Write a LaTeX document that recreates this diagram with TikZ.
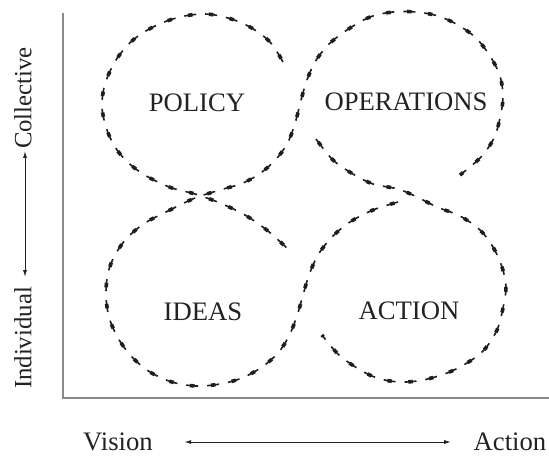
\documentclass[tikz,border=0pt]{standalone}
\usepackage{fontspec}
\setmainfont{Liberation Serif}
\usetikzlibrary{arrows.meta}
\definecolor{ink}{HTML}{1E1E1E}
\definecolor{axisgray}{HTML}{8A8A8A}
\definecolor{textgray}{HTML}{222222}
\tikzset{
  % tapered dashes: a thin dash with a thicker core in its middle
  loopstrand/.style={
    draw=ink, line width=1.2pt, dash pattern=on 9pt off 6.75pt,
    preaction={draw=ink, line width=2.7pt,
      dash pattern=on 0pt off 2.8pt on 3.4pt off 9.55pt}},
  axisline/.style={draw=axisgray, line width=1.6pt},
  dirarrow/.style={draw=textgray, line width=0.6pt,
    {Latex[length=5pt,width=3pt]}-{Latex[length=5pt,width=3pt]}},
  quadlabel/.style={inner sep=0pt, text=textgray, font=\fontsize{20}{24}\selectfont},
  axislabel/.style={inner sep=0pt, text=textgray, font=\fontsize{20}{24}\selectfont},
  sidelabel/.style={inner sep=0pt, text=textgray, rotate=90, font=\fontsize{18.6}{22}\selectfont}
}
\begin{document}
\begin{tikzpicture}[x=0.75pt,y=-0.75pt]
\useasboundingbox (0,0) rectangle (549,455);

% axes
\coordinate (ytop) at (63,13);
\coordinate (origin) at (63,398);
\coordinate (xend) at (549,398);
\draw[axisline] (ytop) -- (origin) -- (xend);

% loop around POLICY running down into IDEAS
\path[loopstrand] plot[smooth, tension=0.55] coordinates {
  (283,62) (270,42) (250,27) (228,18) (205,14) (180,17) (155,26) (133,40)
  (116,60) (105,84) (102,107) (107,130) (117,150) (132,166) (150,178)
  (172,188) (195,194) (220,203) (245,215) (268,231) (290,251)};

% long S-curve: ACTION top, IDEAS, between POLICY and OPERATIONS, OPERATIONS
\path[loopstrand] plot[smooth, tension=0.55] coordinates {
  (398,202) (373,210) (350,222) (332,237) (318,255) (309,275) (303,295)
  (297,316) (289,336) (278,353) (262,367) (242,378) (220,384) (196,386)
  (172,382) (150,372) (132,357) (118,338) (109,317) (106,295) (108,273)
  (115,255) (127,238) (145,223) (168,211) (195,198) (220,190) (243,183)
  (262,172) (278,157) (289,140) (296,120) (301,100) (307,80) (315,62)
  (328,45) (347,30) (370,17) (393,12) (416,12) (438,16) (458,25) (476,38)
  (490,56) (500,76) (503,97) (500,118) (494,138) (481,157) (460,175)};

% loop from OPERATIONS down around ACTION
\path[loopstrand] plot[smooth, tension=0.55] coordinates {
  (316,139) (333,160) (353,174) (373,184) (398,189) (417,197) (437,207)
  (460,216) (480,230) (493,247) (502,267) (506,287) (503,308) (497,330)
  (484,350) (467,363) (447,373) (423,380) (400,382) (377,378) (357,368)
  (338,354) (322,335)};

% quadrant names
\node[quadlabel] (policy) at (197,103) {POLICY};
\node[quadlabel] (operations) at (406,102) {OPERATIONS};
\node[quadlabel] (ideas) at (203,312) {IDEAS};
\node[quadlabel] (action) at (409,311) {ACTION};

% horizontal scale
\node[axislabel] (vision) at (118,442) {Vision};
\node[axislabel] (actionlbl) at (510,442) {Action};
\draw[dirarrow, shorten <=23.6pt, shorten >=17pt]
  (vision.east) -- (vision.east -| actionlbl.west);

% vertical scale
\node[sidelabel] (individual) at (23,338) {Individual};
\node[sidelabel] (collective) at (23,98) {Collective};
\draw[dirarrow, shorten <=7.5pt, shorten >=1.5pt]
  ([xshift=1.5pt]individual.east) -- ([xshift=1.5pt]individual.east |- collective.west);
\end{tikzpicture}
\end{document}
